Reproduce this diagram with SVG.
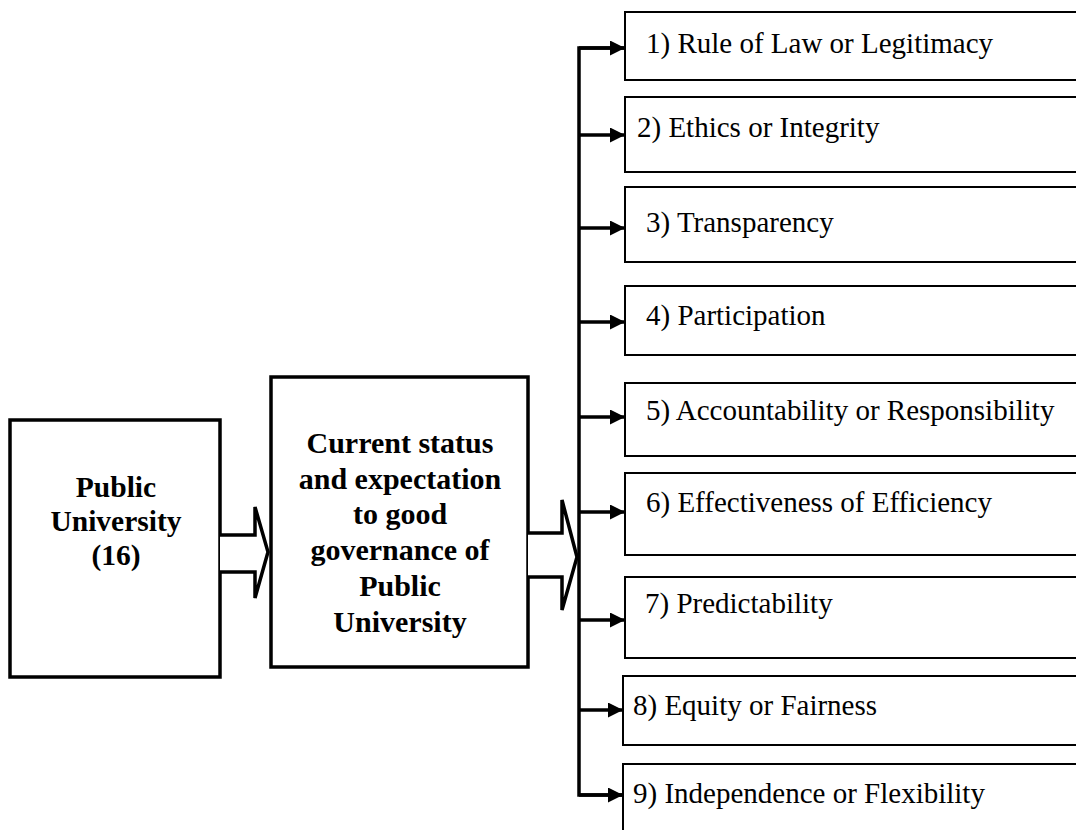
<svg xmlns="http://www.w3.org/2000/svg" width="1076" height="830" viewBox="0 0 1076 830">
  <style>
    .main { fill: #fff; stroke: #000; stroke-width: 3.5; }
    .item { fill: #fff; stroke: #000; stroke-width: 2; }
    .bold { font-family: "Liberation Serif", "Times New Roman", serif; font-weight: bold; font-size: 30px; fill: #000; text-anchor: middle; }
    .label { font-family: "Liberation Serif", "Times New Roman", serif; font-size: 29px; fill: #000; }
    .bus { fill: none; stroke: #000; stroke-width: 3.5; }
    .hollow { fill: #fff; stroke: #000; stroke-width: 3.5; stroke-linejoin: miter; }
  </style>
  <defs>
    <marker id="head" markerUnits="userSpaceOnUse" markerWidth="16" markerHeight="16" refX="15" refY="7.5" orient="auto">
      <path d="M0,0 L15,7.5 L0,15 Z" fill="#000"/>
    </marker>
  </defs>
  <rect width="1076" height="830" fill="#fff"/>

  <g id="node-public-university">
    <rect class="main" x="10" y="420" width="210" height="257"/>
    <text class="bold" x="116" y="497" style="font-size:29.5px">Public</text>
    <text class="bold" x="116" y="531" style="font-size:29.5px">University</text>
    <text class="bold" x="116" y="565" style="font-size:29.5px">(16)</text>
  </g>

  <g id="node-current-status">
    <rect class="main" x="271" y="377" width="257" height="290"/>
    <text class="bold" x="400" y="453">Current status</text>
    <text class="bold" x="400" y="489">and expectation</text>
    <text class="bold" x="400" y="524">to good</text>
    <text class="bold" x="400" y="560">governance of</text>
    <text class="bold" x="400" y="596">Public</text>
    <text class="bold" x="400" y="632">University</text>
  </g>

  <g id="items">
    <g id="item-1"><rect class="item" x="625" y="12" width="470" height="68"/><text class="label" x="646" y="53">1) Rule of Law or Legitimacy</text></g>
    <g id="item-2"><rect class="item" x="625" y="97" width="470" height="75"/><text class="label" x="637" y="137">2) Ethics or Integrity</text></g>
    <g id="item-3"><rect class="item" x="625" y="187" width="470" height="75"/><text class="label" x="646" y="232">3) Transparency</text></g>
    <g id="item-4"><rect class="item" x="625" y="286" width="470" height="69"/><text class="label" x="646" y="325">4) Participation</text></g>
    <g id="item-5"><rect class="item" x="625" y="383" width="470" height="73"/><text class="label" x="646" y="420">5) Accountability or Responsibility</text></g>
    <g id="item-6"><rect class="item" x="625" y="473" width="470" height="82"/><text class="label" x="646" y="512">6) Effectiveness of Efficiency</text></g>
    <g id="item-7"><rect class="item" x="625" y="577" width="470" height="81"/><text class="label" x="645" y="613">7) Predictability</text></g>
    <g id="item-8"><rect class="item" x="623" y="676" width="470" height="69"/><text class="label" x="633" y="715">8) Equity or Fairness</text></g>
    <g id="item-9"><rect class="item" x="623" y="764" width="470" height="90"/><text class="label" x="633" y="803">9) Independence or Flexibility</text></g>
  </g>

  <g id="connectors">
    <!-- block arrows between the two main boxes and into the bus -->
    <polyline class="hollow" points="220,535 255,535 255,507 268,552 255,598 255,572 220,572"/>
    <polyline class="hollow" points="528,533 562,533 562,500 577,557 562,610 562,577 528,577"/>
    <!-- vertical bus -->
    <polyline class="bus" points="624,48 579,48 579,795 622,795"/>
    <!-- branches to each item -->
    <line class="bus" x1="579" y1="48" x2="625" y2="48" marker-end="url(#head)"/>
    <line class="bus" x1="579" y1="135" x2="625" y2="135" marker-end="url(#head)"/>
    <line class="bus" x1="579" y1="228" x2="625" y2="228" marker-end="url(#head)"/>
    <line class="bus" x1="579" y1="322" x2="625" y2="322" marker-end="url(#head)"/>
    <line class="bus" x1="579" y1="417" x2="625" y2="417" marker-end="url(#head)"/>
    <line class="bus" x1="579" y1="512" x2="625" y2="512" marker-end="url(#head)"/>
    <line class="bus" x1="579" y1="620" x2="625" y2="620" marker-end="url(#head)"/>
    <line class="bus" x1="579" y1="710" x2="623" y2="710" marker-end="url(#head)"/>
    <line class="bus" x1="579" y1="795" x2="623" y2="795" marker-end="url(#head)"/>
  </g>
</svg>
